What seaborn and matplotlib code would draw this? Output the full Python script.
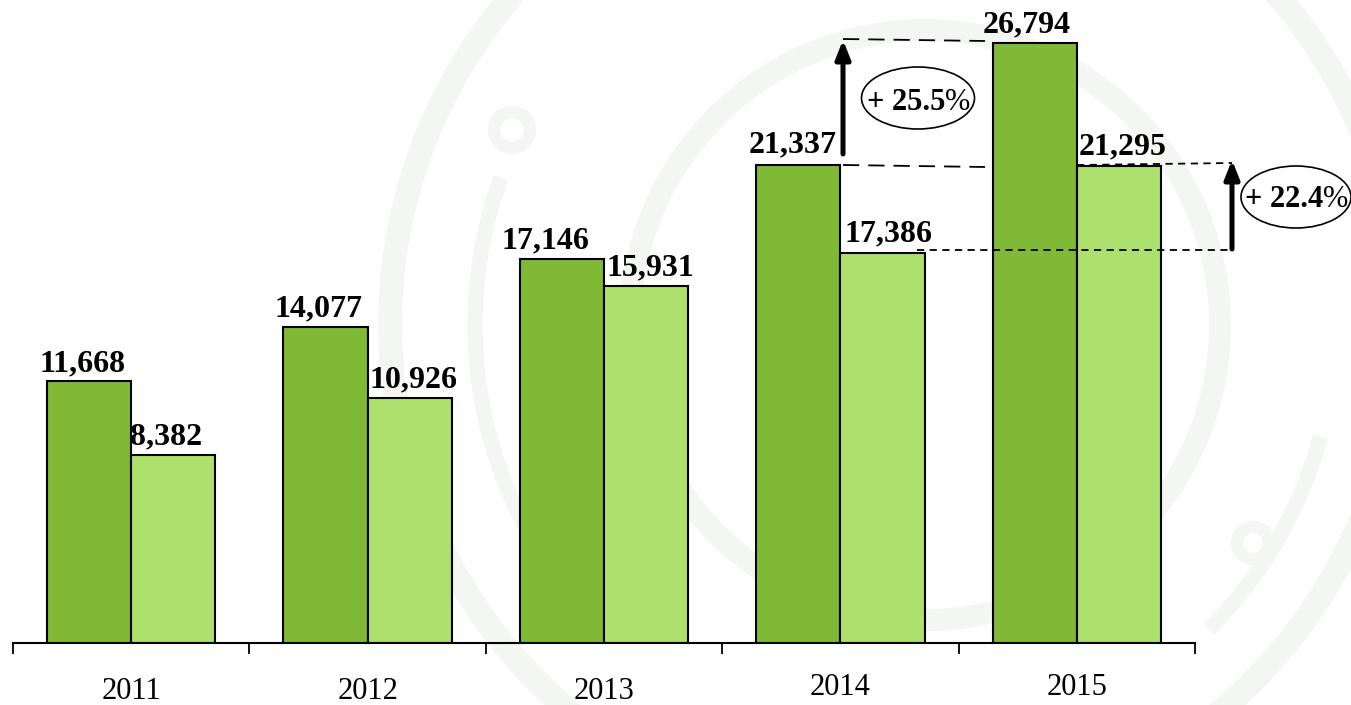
import numpy as np
import matplotlib.pyplot as plt
import matplotlib.patches as mpatches
import matplotlib.transforms as mtrans
import pandas as pd
import seaborn as sns

years = ['2011', '2012', '2013', '2014', '2015']
dark_vals = [11668, 14077, 17146, 21337, 26794]
light_vals = [8382, 10926, 15931, 17386, 21295]

# label offsets from bar centre, pixels
dark_dx = [-7, -7, -16, -6, -8]
light_dx = [-7, 4, 4, 6, 4]
dark_dy = [21, 22, 21, 23, 21]
light_dy = [21, 21, 21, 23, 22]

W, H = 1351, 705
sns.set_style('white')
plt.rcParams['font.family'] = ['Liberation Serif', 'DejaVu Serif']

df = pd.DataFrame({
    'year': years * 2,
    'value': dark_vals + light_vals,
    'series': ['a'] * 5 + ['b'] * 5,
})

fig = plt.figure(figsize=(W / 100, H / 100), dpi=100, facecolor='white')

# faint seal in the background
bg = fig.add_axes([0, 0, 1, 1], zorder=0)
bg.set_xlim(0, W)
bg.set_ylim(H, 0)
bg.axis('off')
mark = '#f4f6f4'
bg.add_patch(mpatches.Circle((895, 325), 505, fill=False, ec=mark, lw=24 * 0.72))
bg.add_patch(mpatches.Circle((925, 325), 295, fill=False, ec=mark, lw=22 * 0.72))
for a0, a1 in [(150, 200), (15, 45)]:
    t = np.radians(np.linspace(a0, a1, 60))
    bg.plot(905 + 430 * np.cos(t), 325 + 430 * np.sin(t), color=mark, lw=11, solid_capstyle='butt')
for cx, cy, r in [(512, 130, 18), (1253, 543, 16)]:
    bg.add_patch(mpatches.Circle((cx, cy), r, fill=False, ec=mark, lw=9))

ax = fig.add_axes([13 / W, 1 - 642.5 / H, 1182 / W, 642.5 / H], zorder=1)
ax.patch.set_alpha(0)
sns.barplot(data=df, x='year', y='value', hue='series', ax=ax, width=0.712, gap=0,
            palette=['#7fb935', '#aee06e'], edgecolor='black', linewidth=1.5,
            saturation=1, legend=False)
ax.set_xlim(-0.5, 4.5)
ax.set_ylim(0, 642.5 / (600 / 26794))
ax.set_xlabel('')
ax.set_ylabel('')
ax.set_yticks([])
for s in ['top', 'right', 'left']:
    ax.spines[s].set_visible(False)
ax.spines['bottom'].set_linewidth(1.5)
ax.spines['bottom'].set_color('black')

ax.set_xticks([i - 0.5 for i in range(6)], minor=True)
ax.tick_params(axis='x', which='minor', length=8, width=1.3, color='black', bottom=True)
ax.tick_params(axis='x', which='major', length=0, pad=25, labelsize=22, labelcolor='black')
for i, lab in enumerate(ax.get_xticklabels()):
    shift = 3 if i >= 3 else 0
    lab.set_transform(lab.get_transform() + mtrans.ScaledTranslation(0, shift / 72, fig.dpi_scale_trans))

bar_dx = 0.178
for i in range(5):
    ax.annotate(f'{dark_vals[i]:,}', (i - bar_dx, dark_vals[i]), xytext=(dark_dx[i], dark_dy[i]),
                textcoords='offset pixels', ha='center', va='center_baseline',
                fontsize=23, fontweight='bold', color='black')
    ax.annotate(f'{light_vals[i]:,}', (i + bar_dx, light_vals[i]), xytext=(light_dx[i], light_dy[i]),
                textcoords='offset pixels', ha='center', va='center_baseline',
                fontsize=23, fontweight='bold', color='black')

# arrows, dashes and ellipses on top, pixel coordinates
top = fig.add_axes([0, 0, 1, 1], zorder=2)
top.set_xlim(0, W)
top.set_ylim(H, 0)
top.axis('off')

top.plot([843, 985], [39, 41], color='black', lw=1.3, dashes=(9, 5))
top.plot([843, 985], [165, 167], color='black', lw=1.3, dashes=(9, 5))
top.plot([1077, 1232], [165, 163], color='black', lw=1.3, dashes=(4, 3))
top.plot([917, 1232], [249.5, 249.5], color='black', lw=1.3, dashes=(4, 3))

for x, y0, y1 in [(843, 154, 40), (1232, 249, 160)]:
    top.annotate('', xy=(x, y1), xytext=(x, y0),
                 arrowprops=dict(arrowstyle='-|>,head_width=0.22,head_length=0.55', color='black',
                                 lw=3.6, shrinkA=0, shrinkB=0, mutation_scale=20))

for cx, cy, w, h in [(918, 98, 113, 62), (1296, 197, 110, 62)]:
    top.add_patch(mpatches.Ellipse((cx, cy), w, h, fill=False, ec='black', lw=1.2, clip_on=False))

top.text(945, 99, '+ 25.5', ha='right', va='center_baseline', fontsize=22, fontweight='bold', color='black')
top.text(945, 99, '%', ha='left', va='center_baseline', fontsize=22, color='black')
top.text(1323, 196, '+ 22.4', ha='right', va='center_baseline', fontsize=22, fontweight='bold', color='black')
top.text(1323, 196, '%', ha='left', va='center_baseline', fontsize=22, color='black')

fig.savefig('out.png', dpi=100)
